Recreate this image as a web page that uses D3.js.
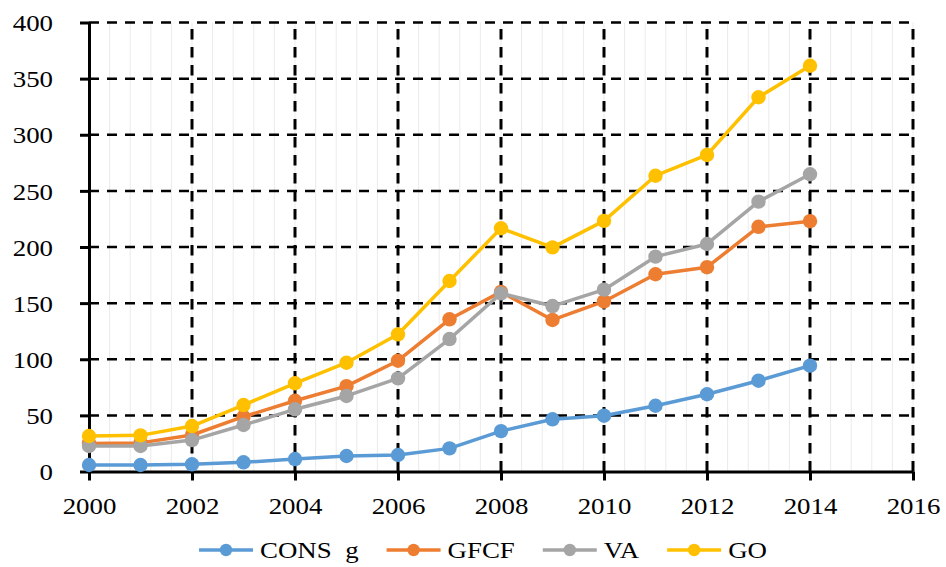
<!DOCTYPE html>
<html>
<head>
<meta charset="utf-8">
<script src="https://cdn.jsdelivr.net/npm/d3@7/dist/d3.min.js"></script>
<style>
  html, body { margin: 0; padding: 0; background: #fff; }
  svg { display: block; }
  text { font-family: "Liberation Serif", "Times New Roman", serif; fill: #000; }
</style>
</head>
<body>
<svg id="chart" width="946" height="567"></svg>
<script>
// Years on the horizontal axis
const years = [2000, 2001, 2002, 2003, 2004, 2005, 2006, 2007, 2008, 2009, 2010, 2011, 2012, 2013, 2014];

// Series values
const consG = [5.8, 5.8, 6.4, 8.2, 11.1, 13.8, 14.7, 20.6, 36, 46.5, 49.7, 58.6, 68.8, 80.9, 94.3];
const gfcf  = [25, 25.5, 32.5, 48.8, 63, 76, 98.7, 135.6, 160, 135, 151.5, 175.7, 182, 218, 223];
const va    = [22.7, 22.7, 28, 41.4, 55.4, 67.3, 83, 118, 158.7, 147.4, 162, 191.4, 202.7, 240.4, 264.8];
const go    = [31.6, 32.2, 40.5, 59.2, 78.6, 96.9, 122.2, 169.7, 216.7, 199.7, 223.3, 263.5, 282, 333.4, 361.5];

// Series names and colours
const seriesNames = ["CONS\u00a0\u00a0g", "GFCF", "VA", "GO"];
const seriesColors = ["#5B9BD5", "#ED7D31", "#A5A5A5", "#FFC000"];

// Axis ticks
const xTicks = [2000, 2002, 2004, 2006, 2008, 2010, 2012, 2014, 2016];
const yTicks = [0, 50, 100, 150, 200, 250, 300, 350, 400];

const seriesValues = [consG, gfcf, va, go];

const svg = d3.select("#chart");
const W = 946, H = 567;
const margin = { left: 89, right: 33, top: 22.5, bottom: 95.5 };
const x0 = margin.left, x1 = W - margin.right;
const y0 = H - margin.bottom, y1 = margin.top;

const x = d3.scaleLinear().domain([2000, 2016]).range([x0, x1]);
const y = d3.scaleLinear().domain([0, 400]).range([y0, y1]);

const FONT = 24;
const STRETCH = 1.12;

// Faint minor vertical gridlines
const minor = d3.range(1, 41).map(k => 2000 + k * 0.4);
svg.append("g")
  .selectAll("line")
  .data(minor)
  .join("line")
  .attr("x1", d => x(d)).attr("x2", d => x(d))
  .attr("y1", y0).attr("y2", y1)
  .attr("stroke", "#ebebeb")
  .attr("stroke-width", 1);

// Dashed major gridlines
const grid = svg.append("g");
grid.selectAll("line.h")
  .data(yTicks.filter(v => v > 0))
  .join("line")
  .attr("class", "h")
  .attr("x1", x0).attr("x2", x1)
  .attr("y1", d => y(d)).attr("y2", d => y(d))
  .attr("stroke", "#000")
  .attr("stroke-width", 2.5)
  .attr("stroke-dasharray", "10,8");
grid.selectAll("line.v")
  .data(xTicks.filter(v => v > 2000))
  .join("line")
  .attr("class", "v")
  .attr("x1", d => x(d)).attr("x2", d => x(d))
  .attr("y1", y0).attr("y2", y1)
  .attr("stroke", "#000")
  .attr("stroke-width", 3)
  .attr("stroke-dasharray", "10.5,7.5");

// Axes
const yAxis = svg.append("g")
  .attr("transform", `translate(${x0},0)`)
  .call(d3.axisLeft(y).tickValues(yTicks).tickSize(9).tickSizeOuter(0).tickFormat(d3.format("d")));
yAxis.select(".domain").attr("stroke", "#000").attr("stroke-width", 3);
yAxis.selectAll(".tick line").attr("stroke", "#000").attr("stroke-width", 3);
yAxis.selectAll(".tick text")
  .attr("x", -36 / STRETCH)
  .attr("dy", "0.34em")
  .attr("transform", `scale(${STRETCH},1)`)
  .style("font-size", FONT + "px")
  .style("font-family", "'Liberation Serif', serif");

const xAxis = svg.append("g")
  .attr("transform", `translate(0,${y0})`)
  .call(d3.axisBottom(x).tickValues(xTicks).tickSize(9).tickSizeOuter(0).tickFormat(d3.format("d")));
xAxis.select(".domain").attr("stroke", "#000").attr("stroke-width", 3);
xAxis.selectAll(".tick line").attr("stroke", "#000").attr("stroke-width", 3);
xAxis.selectAll(".tick text")
  .attr("y", 43)
  .attr("dy", "0")
  .attr("transform", `scale(${STRETCH},1)`)
  .style("font-size", FONT + "px")
  .style("font-family", "'Liberation Serif', serif");

// Lines and markers
const line = d3.line().x((d, i) => x(years[i])).y(d => y(d));
seriesValues.forEach((vals, s) => {
  const g = svg.append("g");
  g.append("path")
    .attr("d", line(vals))
    .attr("fill", "none")
    .attr("stroke", seriesColors[s])
    .attr("stroke-width", 3.5)
    .attr("stroke-linejoin", "round");
  g.selectAll("circle")
    .data(vals)
    .join("circle")
    .attr("cx", (d, i) => x(years[i]))
    .attr("cy", d => y(d))
    .attr("r", 7.2)
    .attr("fill", seriesColors[s]);
});

// Legend: line sample with marker, then the series name
const legend = svg.append("g");
const legY = 550;
const sampleLen = 54, textOffset = 61, gap = 28;
const items = seriesNames.map((name, i) => {
  const g = legend.append("g");
  g.append("line")
    .attr("x1", 0).attr("x2", sampleLen)
    .attr("y1", legY).attr("y2", legY)
    .attr("stroke", seriesColors[i]).attr("stroke-width", 3.3);
  g.append("circle")
    .attr("cx", sampleLen / 2).attr("cy", legY).attr("r", 6.2)
    .attr("fill", seriesColors[i]);
  const t = g.append("text")
    .attr("x", textOffset / STRETCH).attr("y", legY + 8.5)
    .attr("transform", `scale(${STRETCH},1)`)
    .style("font-size", FONT + "px")
    .text(name);
  const w = textOffset + t.node().getComputedTextLength() * STRETCH;
  return { g, w };
});
const total = d3.sum(items, d => d.w) + gap * (items.length - 1);
let cx = 483 - total / 2;
items.forEach(it => {
  it.g.attr("transform", `translate(${cx},0)`);
  cx += it.w + gap;
});
</script>
</body>
</html>
